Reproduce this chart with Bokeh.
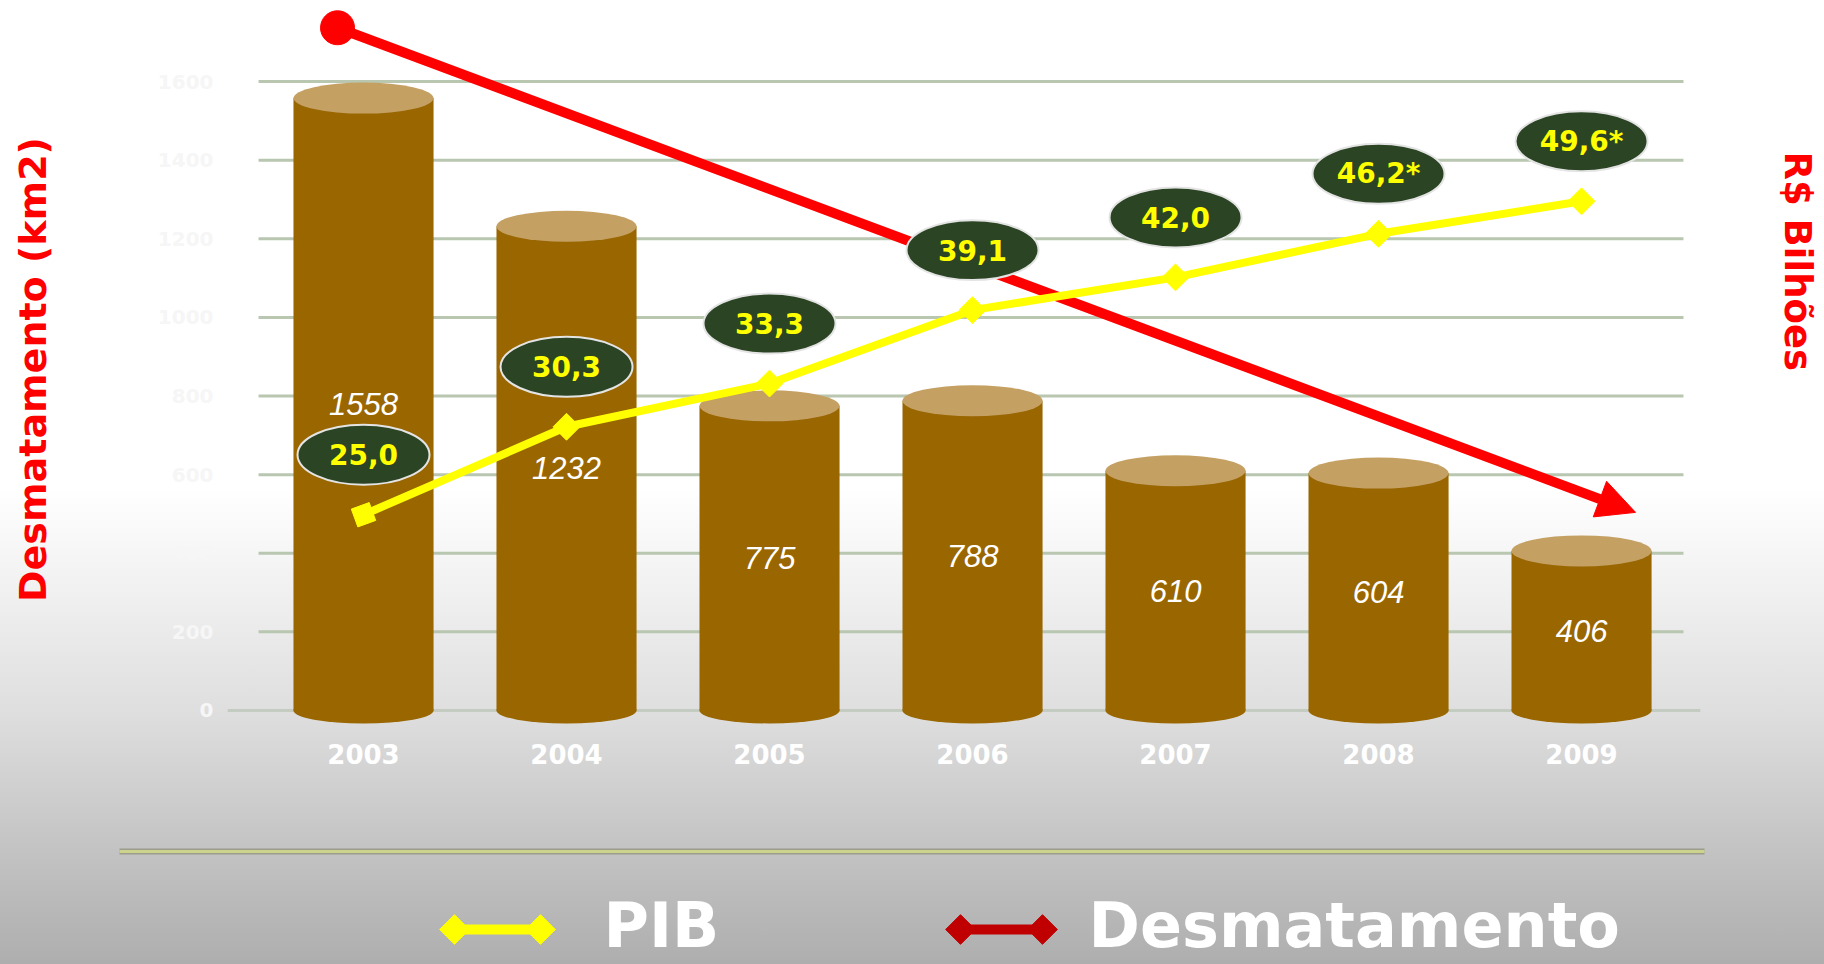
import math
from bokeh.plotting import figure
from bokeh.layouts import column
from bokeh.models import (Range1d, FixedTicker, Span, Arrow, NormalHead, Title, LogScale,
                          LinearAxis)
from bokeh.core.properties import value
from bokeh.embed import file_html
from bokeh.resources import INLINE

# ---------------- data ----------------
years = ["2003", "2004", "2005", "2006", "2007", "2008", "2009"]
desmatamento = [1558, 1232, 775, 788, 610, 604, 406]          # km2
pib = [25.0, 30.3, 33.3, 39.1, 42.0, 46.2, 49.6]               # R$ bilhões
pib_labels = ["25,0", "30,3", "33,3", "39,1", "42,0", "46,2*", "49,6*"]
desmat_ticks = [0, 200, 400, 600, 800, 1000, 1200, 1400, 1600]
trend_values = [1737, 504]        # Desmatamento trend arrow (2003 -> 2009)
legend_labels = ["PIB", "Desmatamento"]

# ---------------- layout / style ----------------
W = 1824
H1, H2 = 840, 124                    # main chart / legend strip
FL, FR, FT, FB = 227, 1700, 8, 730   # frame edges (px)
x_lo, x_hi = -0.67, 6.586
y_lo, y_hi = -51, 1786
pib_lo, pib_hi = 15.6, 75.6
GRID_X0, GRID_X1 = -0.517, 6.502
TREND_X = [-0.128, 6.266]
BAR_W = 0.69
LABEL_LIFT_PX = 60
BODY = "#996600"
TOP = "#c4a063"
GRID = "#b9c6b0"
RED = "#ff0000"
DARKRED = "#c00000"
YEL = "#ffff00"

idx = list(range(len(years)))
frame_h = FB - FT

p = figure(width=W, height=H1, x_range=Range1d(x_lo, x_hi), y_range=Range1d(y_lo, y_hi),
           output_backend="svg", toolbar_location=None,
           min_border_left=FL, min_border_right=W - FR,
           min_border_top=FT, min_border_bottom=H1 - FB)
p.frame_align = False
p.background_fill_color = None
p.border_fill_color = None
p.outline_line_color = None
p.styles = {"background": "linear-gradient(to bottom, #ffffff 0%, #ffffff 58%, #f1f1f1 70%, "
                          "#dedede 85%, #c5c5c5 100%)"}
p.xgrid.visible = False
p.ygrid.visible = False

p.extra_y_ranges = {"pib": Range1d(pib_lo, pib_hi)}
p.extra_y_scales = {"pib": LogScale()}

# ---- axes ----
ya = p.yaxis[0]
ya.ticker = FixedTicker(ticks=desmat_ticks)
ya.axis_line_color = None
ya.major_tick_line_color = None
ya.minor_tick_line_color = None
ya.major_tick_out = 0
ya.major_label_standoff = 14
ya.major_label_text_color = "#f6f6f6"
ya.major_label_text_font = "DejaVu Sans"
ya.major_label_text_font_style = "bold"
ya.major_label_text_font_size = "20px"
ya.axis_label = "Desmatamento (km2)"
ya.axis_label_text_color = RED
ya.axis_label_text_font = "DejaVu Sans"
ya.axis_label_text_font_style = "bold"
ya.axis_label_text_font_size = "38px"
ya.axis_label_standoff = 100

xa = p.xaxis[0]
xa.ticker = FixedTicker(ticks=idx)
xa.major_label_overrides = {i: y for i, y in zip(idx, years)}
xa.axis_line_color = None
xa.major_tick_line_color = None
xa.minor_tick_line_color = None
xa.major_tick_out = 0
xa.major_label_standoff = 13
xa.major_label_text_color = "#ffffff"
xa.major_label_text_font = "DejaVu Sans"
xa.major_label_text_font_style = "bold"
xa.major_label_text_font_size = "26px"

# right (PIB) axis: invisible, only spaces the "R$ Bilhões" title outward
ra = LinearAxis(y_range_name="pib", ticker=FixedTicker(ticks=[30]),
                major_label_overrides={30: ""})
ra.axis_line_color = None
ra.major_tick_line_color = None
ra.minor_tick_line_color = None
ra.major_tick_in = 0
ra.major_tick_out = 72
ra.major_label_standoff = 0
p.add_layout(ra, "right")
p.add_layout(Title(text="R$ Bilhões", align="left", offset=143, standoff=6,
                   text_color=RED, text_font="DejaVu Sans", text_font_style="bold",
                   text_font_size="37px"), "right")

# ---- grid lines ----
gl = p.segment(x0=[GRID_X0] * (len(desmat_ticks) - 1), x1=[GRID_X1] * (len(desmat_ticks) - 1),
               y0=desmat_ticks[1:], y1=desmat_ticks[1:], line_color=GRID, line_width=3)
gl.level = "image"
p.add_layout(Span(location=0, dimension="width", line_color="#c4cbc0", line_width=3,
                  level="image"))

# ---- cylinders ----
p.ellipse(x=idx, y=[0] * len(idx), width=BAR_W, height=26, height_units="screen",
          fill_color=BODY, line_color=None)
p.vbar(x=idx, bottom=0, top=desmatamento, width=BAR_W, fill_color=BODY, line_color=None)
p.ellipse(x=idx, y=desmatamento, width=BAR_W, height=31, height_units="screen",
          fill_color=TOP, line_color=None)
p.text(x=idx, y=[v / 2 for v in desmatamento], text=[str(v) for v in desmatamento],
       text_align="center", text_baseline="middle", text_color="#ffffff",
       text_font=value("Liberation Sans"), text_font_style="italic", text_font_size="31px")

# ---- red trend arrow ----
arrow = Arrow(x_start=TREND_X[0], y_start=trend_values[0], x_end=TREND_X[1], y_end=trend_values[1],
              line_color=RED, line_width=10, level="underlay",
              end=NormalHead(size=38, fill_color=RED, line_color=RED, line_width=1))
p.add_layout(arrow)
p.scatter(x=[TREND_X[0]], y=[trend_values[0]], size=34, marker="circle",
          fill_color=RED, line_color=RED)

# ---- PIB line ----
p.line(x=idx, y=pib, y_range_name="pib", line_color=YEL, line_width=8)
p.scatter(x=idx, y=pib, y_range_name="pib", marker="square", size=19,
          angle=[0.35] + [math.pi / 4] * (len(idx) - 1),
          fill_color=YEL, line_color=YEL)

lift = (pib_hi / pib_lo) ** (LABEL_LIFT_PX / frame_h)
pib_label_y = [v * lift for v in pib]
p.ellipse(x=idx, y=pib_label_y, width=132, height=60, width_units="screen", height_units="screen",
          y_range_name="pib", fill_color="#2b4423", line_color="#e4e4e4", line_width=2)
p.text(x=idx, y=pib_label_y, text=pib_labels, y_range_name="pib",
       text_align="center", text_baseline="middle", text_color=YEL,
       text_font=value("DejaVu Sans"), text_font_style="bold", text_font_size="28px")

# ---------------- legend strip (pixel coordinates, y downward) ----------------
q = figure(width=W, height=H2, x_range=Range1d(0, W), y_range=Range1d(H2, 0),
           output_backend="svg", toolbar_location=None,
           x_axis_location=None, y_axis_location=None,
           min_border_left=0, min_border_right=0, min_border_top=0, min_border_bottom=0)
q.frame_align = False
q.background_fill_color = None
q.border_fill_color = None
q.outline_line_color = None
q.styles = {"background": "linear-gradient(to bottom, #c5c5c5 0%, #aeaeae 100%)"}
q.xgrid.visible = False
q.ygrid.visible = False

SEP_Y = 11
q.segment(x0=[119], x1=[1704], y0=[SEP_Y], y1=[SEP_Y], line_color="#9c9c8c", line_width=6)
q.segment(x0=[119], x1=[1704], y0=[SEP_Y], y1=[SEP_Y], line_color="#cbd38c", line_width=3)

ICON_Y = 89
icon_x = [(454, 540), (960, 1042)]
icon_col = [YEL, DARKRED]
for (a, b), c in zip(icon_x, icon_col):
    q.segment(x0=[a], x1=[b], y0=[ICON_Y], y1=[ICON_Y], line_color=c, line_width=10)
    q.scatter(x=[a, b], y=[ICON_Y, ICON_Y], marker="square", angle=math.pi / 4, size=21,
              fill_color=c, line_color=c)

q.text(x=[603, 1088], y=[85, 85], text=legend_labels, text_color="#ffffff",
       text_font=value("DejaVu Sans"), text_font_style="bold", text_font_size="62px",
       text_baseline="middle", text_align="left")

layout = column(p, q, spacing=0)
open("out.html", "w").write(file_html(layout, INLINE))
